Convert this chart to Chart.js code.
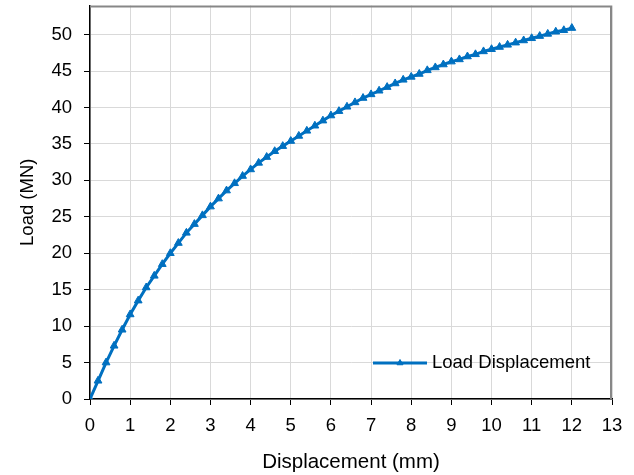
<!DOCTYPE html>
<html>
<head>
<meta charset="utf-8">
<script src="https://cdn.jsdelivr.net/npm/chart.js@4"></script>
<style>
  html, body { margin: 0; padding: 0; background: #fff; }
  #wrap { width: 634px; height: 475px; }
</style>
</head>
<body>
<div id="wrap"><canvas id="c" width="634" height="475"></canvas></div>
<script>
const seriesLabel = "Load Displacement";
const xTitle = "Displacement (mm)";
const yTitle = "Load (MN)";
const displacement = [0,0.2,0.4,0.6,0.8,1.0,1.2,1.4,1.6,1.8,2.0,2.2,2.4,2.6,2.8,3.0,3.2,3.4,3.6,3.8,4.0,4.2,4.4,4.6,4.8,5.0,5.2,5.4,5.6,5.8,6.0,6.2,6.4,6.6,6.8,7.0,7.2,7.4,7.6,7.8,8.0,8.2,8.4,8.6,8.8,9.0,9.2,9.4,9.6,9.8,10.0,10.2,10.4,10.6,10.8,11.0,11.2,11.4,11.6,11.8,12.0];
const load = [0,2.5,5.0,7.3,9.5,11.6,13.5,15.3,16.9,18.5,20.0,21.4,22.8,24.0,25.2,26.4,27.5,28.6,29.6,30.6,31.5,32.4,33.2,34.0,34.7,35.4,36.1,36.8,37.5,38.2,38.9,39.5,40.1,40.7,41.3,41.8,42.3,42.8,43.3,43.8,44.2,44.6,45.1,45.5,45.9,46.3,46.6,47.0,47.3,47.7,48.0,48.3,48.6,48.9,49.2,49.5,49.8,50.1,50.4,50.6,50.9];

const FONT = "'Liberation Sans', Arial, sans-serif";
const BLUE = '#0070C0';

const points = displacement.map((x, i) => ({ x: x, y: load[i] }));

const frameAndLegend = {
  id: 'frameAndLegend',
  afterDraw(chart) {
    const ctx = chart.ctx;
    const a = chart.chartArea;
    ctx.save();
    // top and right frame
    ctx.strokeStyle = '#878787';
    ctx.lineWidth = 2;
    ctx.beginPath();
    ctx.moveTo(a.left, a.top + 1);
    ctx.lineTo(a.right - 1, a.top + 1);
    ctx.lineTo(a.right - 1, a.bottom);
    ctx.stroke();
    // legend inside plot
    const ds = chart.data.datasets[0];
    const y = 363;
    const x0 = 373, x1 = 427;
    ctx.strokeStyle = ds.borderColor;
    ctx.lineWidth = ds.borderWidth;
    ctx.beginPath();
    ctx.moveTo(x0, y);
    ctx.lineTo(x1, y);
    ctx.stroke();
    ctx.fillStyle = ds.pointBackgroundColor;
    ctx.strokeStyle = ds.pointBorderColor;
    ctx.lineWidth = 1;
    Chart.helpers.drawPoint(ctx, { pointStyle: 'triangle', radius: 3.5, borderWidth: 1, rotation: 0 }, (x0 + x1) / 2, y);
    ctx.font = '18.5px ' + FONT;
    ctx.fillStyle = '#000';
    ctx.textBaseline = 'middle';
    ctx.textAlign = 'left';
    ctx.fillText(ds.label, 432, y);
    ctx.restore();
  }
};

new Chart(document.getElementById('c'), {
  type: 'line',
  data: {
    datasets: [{
      label: seriesLabel,
      data: points,
      borderColor: BLUE,
      backgroundColor: BLUE,
      borderWidth: 3,
      pointStyle: 'triangle',
      pointRadius: 4.5,
      pointBackgroundColor: BLUE,
      pointBorderColor: BLUE,
      pointBorderWidth: 1,
      tension: 0,
      fill: false
    }]
  },
  options: {
    responsive: false,
    animation: false,
    devicePixelRatio: 1,
    layout: { padding: { left: 0, right: 22, top: 4, bottom: 0 } },
    plugins: {
      legend: { display: false },
      tooltip: { enabled: false }
    },
    scales: {
      x: {
        type: 'linear',
        min: 0, max: 13,
        afterFit(s) { s.height = 76; s.paddingLeft = 0; s.paddingRight = 0; },
        ticks: { stepSize: 1, color: '#000', font: { family: FONT, size: 18.5 }, padding: 10, maxRotation: 0 },
        grid: { color: '#d9d9d9', lineWidth: 1, tickColor: '#000', tickLength: 6, drawTicks: true },
        border: { color: '#000', width: 1.5 },
        title: { display: true, text: xTitle, color: '#000', font: { family: FONT, size: 20.5 }, padding: { top: 0, bottom: 0 } }
      },
      y: {
        min: 0, max: 54,
        afterFit(s) { s.width = 90; s.paddingTop = 0; s.paddingBottom = 0; },
        afterBuildTicks(s) { s.ticks = s.ticks.filter(t => t.value % 5 === 0); },
        ticks: { stepSize: 5, color: '#000', font: { family: FONT, size: 18.5 }, padding: 12 },
        grid: { color: '#d9d9d9', lineWidth: 1, tickColor: '#000', tickLength: 6, drawTicks: true },
        border: { color: '#000', width: 1.5 },
        title: { display: true, text: yTitle, color: '#000', font: { family: FONT, size: 18.5 }, padding: { top: 17, bottom: 0 } }
      }
    }
  },
  plugins: [frameAndLegend]
});
</script>
</body>
</html>
